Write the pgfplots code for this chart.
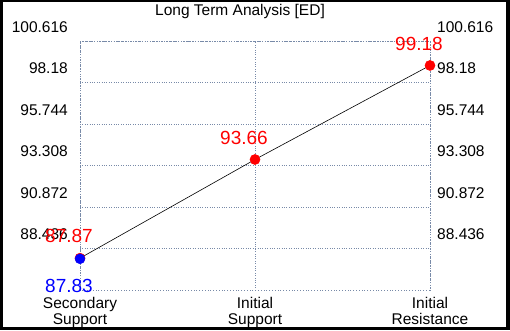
\documentclass[border=0pt]{standalone}
\usepackage{pgfplots}
\pgfplotsset{compat=1.18}
\usepackage{fontspec}
\setmainfont{Liberation Sans}
\definecolor{gridc}{RGB}{120,138,168}
\begin{document}
\begin{tikzpicture}
\fill[black] (0,0) rectangle (510pt,330pt);
\fill[white] (3pt,3pt) rectangle (506pt,328pt);
\node[anchor=base, font=\fontsize{15.5}{17}\selectfont, inner sep=0pt] at (240pt,314pt) {Long Term Analysis [ED]};
\begin{axis}[
  at={(80pt,40pt)}, anchor=south west,
  scale only axis, width=350pt, height=249pt,
  xmin=0, xmax=2, ymin=86.0, ymax=100.616,
  xtick={0,1,2},
  xticklabels={Secondary\\Support, Initial\\Support, Initial\\Resistance},
  xticklabel style={align=center, font=\fontsize{15.5}{16.5}\selectfont, inner sep=0pt, anchor=north, yshift=-7pt},
  ytick={88.436,90.872,93.308,95.744,98.18,100.616},
  yticklabels={88.436,90.872,93.308,95.744,98.18,100.616},
  yticklabel style={font=\fontsize{15.5}{17}\selectfont, inner sep=0pt, anchor=east, xshift=-12pt, yshift=14pt},
  major tick length=0pt,
  grid=major,
  major grid style={gridc, dotted, line width=0.8pt},
  x axis line style={gridc, dotted, line width=0.8pt},
  y axis line style={gridc, line width=0.8pt},
  clip=false,
]
\addplot[black, line width=0.6pt, mark=*, mark size=5pt, mark options={fill=red, draw=red},
  point meta=explicit symbolic, nodes near coords,
  every node near coord/.append style={text=red, font=\fontsize{19}{19}\selectfont, anchor=center, xshift=-11pt, yshift=22pt, inner sep=0pt}]
  coordinates {(0,87.87)[87.87] (1,93.66)[93.66] (2,99.18)[99.18]};
\addplot[only marks, mark=*, mark size=5pt, mark options={fill=blue, draw=blue},
  point meta=explicit symbolic, nodes near coords,
  every node near coord/.append style={text=blue, font=\fontsize{19}{19}\selectfont, anchor=center, xshift=-11pt, yshift=-27pt, inner sep=0pt}]
  coordinates {(0,87.83)[87.83]};
\end{axis}
\begin{axis}[
  at={(80pt,40pt)}, anchor=south west,
  scale only axis, width=350pt, height=249pt,
  xmin=0, xmax=2, ymin=86.0, ymax=100.616,
  axis x line=none,
  axis y line*=right, y axis line style={draw=none},
  ytick={88.436,90.872,93.308,95.744,98.18,100.616},
  yticklabels={88.436,90.872,93.308,95.744,98.18,100.616},
  yticklabel style={font=\fontsize{15.5}{17}\selectfont, inner sep=0pt, anchor=west, xshift=7pt, yshift=14pt},
  major tick length=0pt,
]
\addplot[draw=none] coordinates {(0,90)};
\end{axis}
\pgfresetboundingbox
\useasboundingbox (0,0) rectangle (510pt,330pt);
\end{tikzpicture}
\end{document}
